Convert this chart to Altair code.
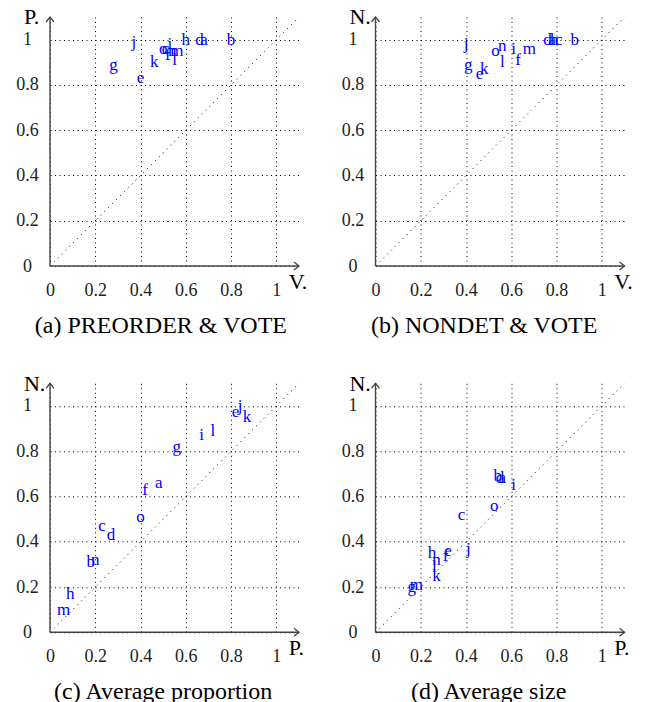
import altair as alt
import pandas as pd

letters = list("abcdefghijklmno")

# (a) PREORDER & VOTE : x = V., y = P.
a_x = [0.68, 0.80, 0.51, 0.66, 0.40, 0.52, 0.28, 0.60, 0.53, 0.37, 0.46, 0.55, 0.56, 0.54, 0.50]
a_y = [1.00, 1.00, 0.96, 1.00, 0.83, 0.93, 0.89, 1.00, 0.98, 0.99, 0.90, 0.91, 0.95, 0.95, 0.96]
# (b) NONDET & VOTE : x = V., y = N.
b_x = [0.78, 0.88, 0.81, 0.76, 0.46, 0.63, 0.41, 0.79, 0.61, 0.40, 0.48, 0.56, 0.68, 0.56, 0.53]
b_y = [1.00, 1.00, 1.00, 1.00, 0.85, 0.91, 0.89, 1.00, 0.96, 0.98, 0.87, 0.90, 0.96, 0.97, 0.95]
# (c) Average proportion : x = P., y = N.
c_x = [0.48, 0.18, 0.23, 0.27, 0.82, 0.42, 0.56, 0.09, 0.67, 0.84, 0.87, 0.72, 0.06, 0.20, 0.40]
c_y = [0.66, 0.31, 0.47, 0.43, 0.975, 0.63, 0.82, 0.17, 0.87, 1.0, 0.95, 0.89, 0.10, 0.32, 0.51]
# (d) Average size : x = P., y = N.
d_x = [0.56, 0.54, 0.38, 0.55, 0.32, 0.31, 0.16, 0.25, 0.61, 0.41, 0.27, 0.26, 0.18, 0.27, 0.525]
d_y = [0.68, 0.69, 0.52, 0.68, 0.36, 0.335, 0.20, 0.35, 0.65, 0.37, 0.25, 0.29, 0.21, 0.32, 0.56]

tick_values = [0, 0.2, 0.4, 0.6, 0.8, 1]
captions = ["(a) PREORDER & VOTE", "(b) NONDET & VOTE", "(c) Average proportion", "(d) Average size"]
x_titles = ["V.", "V.", "P.", "P."]
y_titles = ["P.", "N.", "N.", "N."]
caption_x = [0.49, 0.48, 0.50, 0.50]

FONT = "Times New Roman, Liberation Serif, Times, serif"
DOMAIN = [0, 1.1]
W = 249


def panel(xs, ys, xt, yt, cap, capx):
    sc = alt.Scale(domain=DOMAIN, nice=False, zero=False)
    common = dict(values=tick_values, format=".1~f", domain=False, ticks=False, tickSize=0,
                  grid=True, gridDash=[1, 3.5], gridColor="black", gridWidth=1, gridOpacity=1,
                  labelFont=FONT, labelFontSize=18, labelColor="#222", labelFlush=False,
                  labelOverlap=False, title=None)
    axx = alt.Axis(labelPadding=15, **common)
    axy = alt.Axis(labelPadding=23, labelAlign="center", **common)
    X = alt.X("x:Q", scale=sc, axis=axx)
    Y = alt.Y("y:Q", scale=sc, axis=axy)

    diag = alt.Chart(pd.DataFrame({"x": [0], "y": [0], "x2": [1.1], "y2": [1.1]})).mark_rule(
        color="black", strokeWidth=1, strokeDash=[1, 4.5]
    ).encode(x=X, y=Y, x2="x2:Q", y2="y2:Q")

    axes = alt.Chart(pd.DataFrame({"x": [0, 0], "y": [0, 0], "x2": [1.1, 0], "y2": [0, 1.1]})).mark_rule(
        color="#444", strokeWidth=1.4
    ).encode(x=X, y=Y, x2="x2:Q", y2="y2:Q")

    arrow_r = alt.Chart(pd.DataFrame({"x": [1.1], "y": [0]})).mark_point(
        shape="M -1 -0.8 L 0 0 L -1 0.8", size=100, filled=False, stroke="#444", strokeWidth=1.3, opacity=1
    ).encode(x=X, y=Y)
    arrow_u = alt.Chart(pd.DataFrame({"x": [0], "y": [1.1]})).mark_point(
        shape="M -0.8 1 L 0 0 L 0.8 1", size=100, filled=False, stroke="#444", strokeWidth=1.3, opacity=1
    ).encode(x=X, y=Y)

    pts = alt.Chart(pd.DataFrame({"x": xs, "y": ys, "t": letters})).mark_text(
        font=FONT, fontSize=17, color="blue", align="center", baseline="middle"
    ).encode(x=X, y=Y, text="t:N")

    titles = alt.Chart(pd.DataFrame({"x": [-0.115, 1.055], "y": [1.068, -0.10], "t": [yt, xt]})).mark_text(
        font=FONT, fontSize=22, color="black", align="left", baseline="alphabetic"
    ).encode(x=X, y=Y, text="t:N")

    capt = alt.Chart(pd.DataFrame({"x": [capx], "y": [-0.295], "t": [cap]})).mark_text(
        font=FONT, fontSize=24, color="black", align="center", baseline="alphabetic"
    ).encode(x=X, y=Y, text="t:N")

    return alt.layer(diag, axes, arrow_r, arrow_u, pts, titles, capt).properties(width=W, height=W)


panels = [
    panel(a_x, a_y, x_titles[0], y_titles[0], captions[0], caption_x[0]),
    panel(b_x, b_y, x_titles[1], y_titles[1], captions[1], caption_x[1]),
    panel(c_x, c_y, x_titles[2], y_titles[2], captions[2], caption_x[2]),
    panel(d_x, d_y, x_titles[3], y_titles[3], captions[3], caption_x[3]),
]

chart = alt.concat(
    *panels, columns=2, spacing={"row": 117.3, "column": 76.5}, bounds="flush"
).properties(
    padding={"left": 7, "top": -2, "right": 0, "bottom": 0}
).configure_view(stroke=None)

chart.save("out.html", embed_options={"renderer": "svg", "actions": False})
